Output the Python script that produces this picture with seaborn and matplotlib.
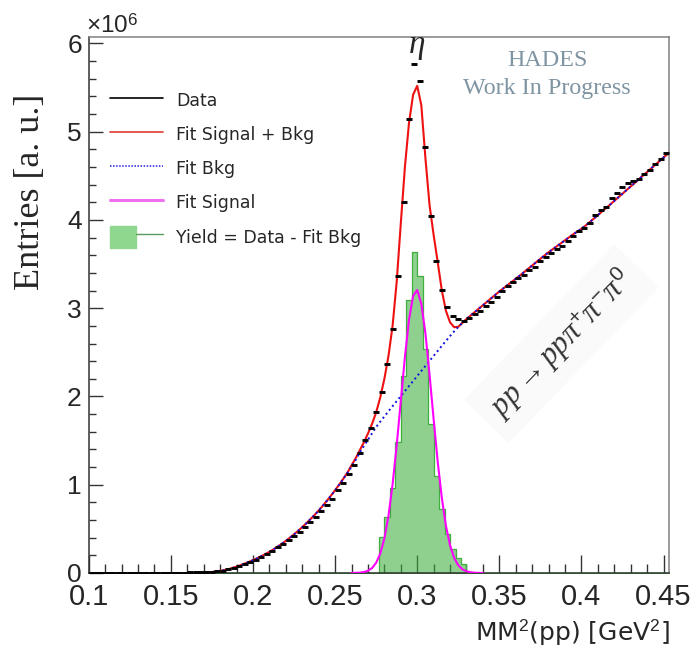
import numpy as np
import pandas as pd
import matplotlib
matplotlib.use("Agg")
import matplotlib.pyplot as plt
import seaborn as sns
from matplotlib.lines import Line2D
from matplotlib.patches import Patch
from matplotlib.ticker import MultipleLocator, FuncFormatter
from matplotlib.legend_handler import HandlerTuple

sns.set_style("ticks")
plt.rcParams["font.family"] = ["Liberation Sans", "DejaVu Sans"]
plt.rcParams["mathtext.fontset"] = "custom"
plt.rcParams["mathtext.rm"] = "Liberation Sans"
plt.rcParams["mathtext.it"] = "Liberation Serif:italic"
plt.rcParams["mathtext.bf"] = "Liberation Sans:bold"

# ---------------- data (units of 1e6 entries) ----------------
x_min, x_max, n_bins = 0.1, 0.1 + 106 / 300, 106

data_counts = [0.0] * 15 + [
    0.003, 0.004, 0.005, 0.006, 0.006, 0.007, 0.008,
    0.012, 0.018, 0.027, 0.040, 0.055, 0.075, 0.098, 0.125,
    0.150, 0.180, 0.215, 0.252, 0.290, 0.330, 0.372, 0.420, 0.468, 0.520,
    0.575, 0.630, 0.700, 0.770, 0.840, 0.935, 1.02, 1.12, 1.22, 1.36,
    1.51, 1.64, 1.82, 2.05, 2.37, 2.77, 3.37, 4.20, 5.14, 5.77,
    5.57, 4.83, 4.04, 3.53, 3.21, 3.01, 2.91, 2.88, 2.86, 2.89,
    2.93, 2.97, 3.02, 3.07, 3.13, 3.19, 3.25, 3.30, 3.34, 3.38,
    3.43, 3.47, 3.53, 3.58, 3.63, 3.67, 3.71, 3.76, 3.82, 3.87,
    3.91, 3.97, 4.06, 4.11, 4.15, 4.25, 4.31, 4.37, 4.42, 4.44,
    4.47, 4.52, 4.57, 4.63, 4.69, 4.76]

yield_counts = [0.0] * 53 + [
    0.41, 0.64, 0.96, 1.48, 2.23, 3.09, 3.64, 3.36, 2.54, 1.69,
    1.10, 0.72, 0.44, 0.27, 0.17, 0.10] + [0.0] * 37

fit_x_start, fit_x_step = 0.16, 0.0025
bkg_fit = [
    0.000, 0.000, 0.001, 0.002, 0.004, 0.007, 0.011, 0.017, 0.024, 0.033,
    0.044, 0.057, 0.072, 0.089, 0.107, 0.126, 0.146, 0.167, 0.190, 0.214,
    0.240, 0.268, 0.298, 0.330, 0.364, 0.400, 0.438, 0.478, 0.520, 0.564,
    0.610, 0.658, 0.708, 0.762, 0.818, 0.877, 0.938, 1.002, 1.068, 1.136,
    1.205, 1.280, 1.365, 1.438, 1.509, 1.583, 1.655, 1.715, 1.774, 1.832,
    1.890, 1.947, 2.004, 2.061, 2.118, 2.175, 2.232, 2.289, 2.346, 2.403,
    2.460, 2.517, 2.574, 2.630, 2.685, 2.738, 2.788, 2.834, 2.877, 2.917,
    2.956, 2.995, 3.034, 3.073, 3.112, 3.151, 3.190, 3.226, 3.262, 3.298,
    3.334, 3.370, 3.408, 3.446, 3.484, 3.522, 3.560, 3.597, 3.634, 3.668,
    3.702, 3.736, 3.770, 3.804, 3.838, 3.868, 3.900, 3.936, 3.975, 4.015,
    4.055, 4.095, 4.135, 4.175, 4.216, 4.257, 4.298, 4.339, 4.380, 4.421,
    4.462, 4.503, 4.544, 4.585, 4.626, 4.667, 4.708, 4.749, 4.790]

peak_start = 0.26
total_fit_peak = [
    1.22, 1.30, 1.39, 1.48, 1.58, 1.69, 1.82, 1.99, 2.20, 2.46,
    2.80, 3.30, 3.96, 4.60, 5.10, 5.42, 5.52, 5.30, 4.70, 4.17,
    3.83, 3.52, 3.20, 2.97, 2.84, 2.785, 2.79, 2.834]

signal_fit = [
    0.000, 0.002, 0.004, 0.011, 0.026, 0.056, 0.116, 0.220, 0.391, 0.648,
    1.003, 1.446, 1.947, 2.447, 2.870, 3.140, 3.207, 3.050, 2.716, 2.250,
    1.743, 1.258, 0.848, 0.533, 0.313, 0.171, 0.088, 0.042, 0.019, 0.008,
    0.003, 0.001, 0.000]

legend_labels = ["Data", "Fit Signal + Bkg", "Fit Bkg", "Fit Signal",
                 "Yield = Data - Fit Bkg"]

# ---------------- derived tables ----------------
edges = np.linspace(x_min, x_max, n_bins + 1)
centers = 0.5 * (edges[:-1] + edges[1:])
hist_df = pd.DataFrame({"mm2": centers, "data": data_counts,
                        "yield": yield_counts})
fit_x = fit_x_start + fit_x_step * np.arange(len(bkg_fit))
sig_x = peak_start + fit_x_step * np.arange(len(signal_fit))
total_fit = np.array(bkg_fit, dtype=float)
i0 = int(round((peak_start - fit_x_start) / fit_x_step))
total_fit[i0:i0 + len(total_fit_peak)] = total_fit_peak
fit_df = pd.DataFrame({"x": fit_x, "bkg": bkg_fit, "total": total_fit})
sig_df = pd.DataFrame({"x": sig_x, "sig": signal_fit})

# ---------------- figure ----------------
W, H = 696, 651
fig = plt.figure(figsize=(W / 100, H / 100), dpi=100)
ax = fig.add_axes([88.8 / W, 1 - 573 / H, 580.2 / W, 535.7 / H])

green = "#3FAF3F"
sns.histplot(data=hist_df, x="mm2", weights="yield", bins=edges.tolist(),
             element="step", fill=True, color=green, alpha=0.58,
             linewidth=0.9, ax=ax, zorder=1)
sns.lineplot(data=fit_df, x="x", y="total", color="#EE1111", linewidth=1.5,
             sort=False, ax=ax, zorder=3)
sns.lineplot(data=fit_df, x="x", y="bkg", color="#1010E0", linewidth=1.4,
             linestyle=(0, (1.0, 1.6)), sort=False, ax=ax, zorder=4)
sns.lineplot(data=sig_df, x="x", y="sig", color="#FF00FF", linewidth=1.5,
             sort=False, ax=ax, zorder=4)
sns.scatterplot(data=hist_df, x="mm2", y="data", marker="_", s=16,
                color="black", linewidth=2.1, ax=ax, zorder=6, legend=False)

ax.set_xlim(x_min, x_max)
ax.set_ylim(0, 6.07)
ax.set_xlabel("")
ax.set_ylabel("")
ax.xaxis.set_major_locator(MultipleLocator(0.05))
ax.xaxis.set_minor_locator(MultipleLocator(0.01))
ax.yaxis.set_major_locator(MultipleLocator(1))
ax.yaxis.set_minor_locator(MultipleLocator(0.2))
ax.xaxis.set_major_formatter(FuncFormatter(lambda v, p: f"{v:g}"))
ax.yaxis.set_major_formatter(FuncFormatter(lambda v, p: f"{v:g}"))
ax.tick_params(axis="x", which="major", direction="in", length=13, width=1,
               labelsize=21, pad=7, top=False, color="#333333")
ax.tick_params(axis="x", which="minor", direction="in", length=6.5, width=1,
               top=False, color="#333333")
ax.tick_params(axis="y", which="major", direction="in", length=10, width=1,
               labelsize=19, pad=5, right=False, color="#333333")
ax.tick_params(axis="y", which="minor", direction="in", length=5, width=1,
               right=False, color="#333333")
for side in ["left", "bottom"]:
    ax.spines[side].set_color("#333333")
for side in ["top", "right"]:
    ax.spines[side].set_color("#808080")
for s in ax.spines.values():
    s.set_linewidth(1.1)

# legend
handles = [
    Line2D([], [], color="black", lw=1.2),
    Line2D([], [], color="#E03A34", lw=1.2),
    Line2D([], [], color="#2020DD", lw=1.1, ls=(0, (1, 1))),
    Line2D([], [], color="#F070F0", lw=2.2),
    (Patch(facecolor="#8FD68F", edgecolor="#8FD68F"),
     Line2D([], [], color="#5A9A5A", lw=1.0)),
]
ax.legend(handles, legend_labels, loc="upper left",
          bbox_to_anchor=(0.0365, 0.903), frameon=False,
          prop={"family": "DejaVu Sans", "size": 12.5},
          handlelength=3.05, handleheight=1.6, handletextpad=0.75,
          labelspacing=0.68, borderpad=0, borderaxespad=0,
          handler_map={tuple: HandlerTuple(ndivide=None)})

# texts
fig.text(670 / W, 1 - 640 / H, "MM$^{2}$(pp) [GeV$^{2}$]", ha="right",
         va="baseline", fontsize=18, family="DejaVu Sans")
fig.text(86 / W, 1 - 33 / H, "×10$^{6}$", ha="left", va="baseline",
         fontsize=17.5)
fig.text(30 / W, 1 - 192 / H, "Entries [a. u.]", rotation=90,
         family="Liberation Serif", fontsize=26, ha="center", va="center")
ax.text(0.2995, 5.97, r"$\eta$", fontsize=24, ha="center", va="center",
        clip_on=False)
fig.text(547 / W, 1 - 66 / H, "HADES", family="Liberation Serif",
         fontsize=17.3, color="#7E94A3", ha="center", va="baseline")
fig.text(547 / W, 1 - 94 / H, "Work In Progress", family="Liberation Serif",
         fontsize=17.3, color="#7E94A3", ha="center", va="baseline")
ax.text(0.3878, 2.60, r"$pp \rightarrow pp\pi^{+}\pi^{-}\pi^{0}$",
        rotation=46, rotation_mode="anchor", ha="center", va="center",
        fontsize=22, color="#333333",
        bbox=dict(facecolor="#F4F4F4", edgecolor="none", pad=9, alpha=0.45))

fig.savefig("out.png", dpi=100)
